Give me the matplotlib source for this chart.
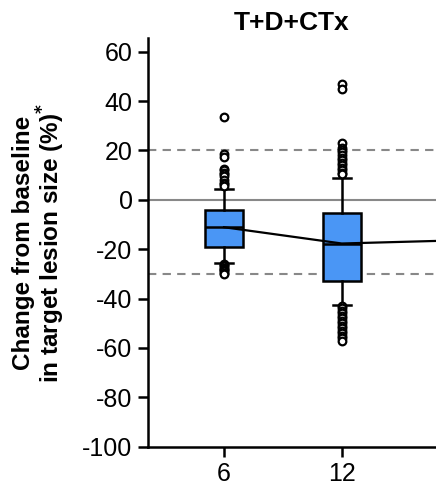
import matplotlib
matplotlib.use('Agg')
import matplotlib.pyplot as plt

plt.rcParams['font.family'] = ['Liberation Sans', 'DejaVu Sans']
plt.rcParams['axes.unicode_minus'] = False

# box statistics (week, %)
weeks = [6, 12]
q1 = [-19.0, -32.8]
med = [-11.1, -17.7]
q3 = [-4.2, -5.5]
whislo = [-25.8, -42.6]
whishi = [4.2, 9.0]
fliers_6 = [33.5, 18.5, 17.5, 12.5, 12.0, 11.0, 10.5, 9.5, 8.0, 7.0, 6.5, 5.5,
            -26.0, -26.5, -27.0, -27.5, -28.0, -28.5, -29.0, -29.5, -30.0]
fliers_12 = [47.0, 45.0, 23.0, 21.0, 20.0, 19.5, 18.0, 17.0, 16.0, 15.0, 14.0,
             13.0, 12.0, 11.0, 10.5, -43.0, -44.0, -45.0, -46.0, -47.0, -48.0,
             -49.0, -50.0, -51.0, -52.0, -53.0, -54.0, -55.0, -56.0, -57.0]
fliers = [fliers_6, fliers_12]

# median trend line
trend_x = [6, 12, 18]
trend_y = [-11.1, -17.7, -16.4]

stats = []
for i in range(len(weeks)):
    stats.append(dict(med=med[i], q1=q1[i], q3=q3[i], whislo=whislo[i],
                      whishi=whishi[i], fliers=fliers[i]))

fig = plt.figure(figsize=(4.36, 4.86), dpi=100)
ax = fig.add_axes([0.339, 0.081, 0.661, 0.840])

ax.axhline(20, color='#888888', lw=1.5, ls=(0, (4, 3)), zorder=1)
ax.axhline(-30, color='#888888', lw=1.5, ls=(0, (4, 3)), zorder=1)
ax.axhline(0, color='#888888', lw=1.5, zorder=1)

ax.bxp(stats, positions=weeks, widths=1.95, patch_artist=True,
       showfliers=True,
       boxprops=dict(facecolor='#4A96F5', edgecolor='black', lw=1.8),
       medianprops=dict(color='black', lw=1.8),
       whiskerprops=dict(color='black', lw=1.8),
       capprops=dict(color='black', lw=1.8),
       capwidths=0.9,
       flierprops=dict(marker='o', markersize=5.5, markerfacecolor='white',
                       markeredgecolor='black', markeredgewidth=1.6),
       zorder=3)

ax.plot(trend_x, trend_y, color='black', lw=1.6, zorder=4)

ax.set_xlim(2.12, 16.8)
ax.set_ylim(-100, 65.4)
ax.set_xticks(weeks)
ax.set_xticklabels(['6', '12'])
ax.set_yticks(range(-100, 61, 20))

for s in ['top', 'right']:
    ax.spines[s].set_visible(False)
for s in ['left', 'bottom']:
    ax.spines[s].set_linewidth(1.8)
ax.tick_params(axis='both', direction='out', length=7, width=1.8,
               labelsize=18, pad=4)

ax.set_title('T+D+CTx', fontsize=19, fontweight='bold', pad=6)
ax.set_ylabel('Change from baseline\nin target lesion size (%)$^{\\mathbf{*}}$',
              fontsize=17.5, fontweight='bold', labelpad=11, linespacing=1.0)

fig.savefig('out.png', dpi=100)
